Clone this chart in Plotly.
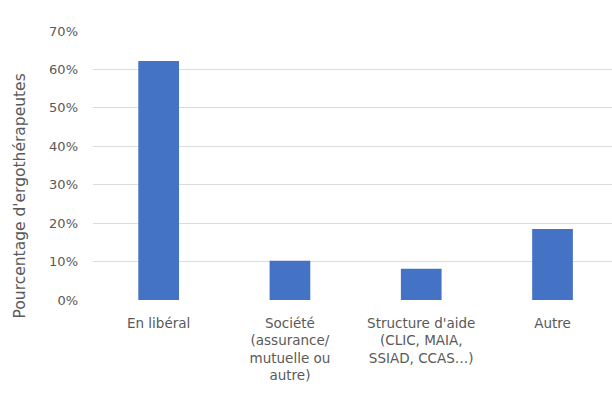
import plotly.graph_objects as go

categories = ["En libéral",
              "Société<br>(assurance/<br>mutuelle ou<br>autre)",
              "Structure d'aide<br>(CLIC, MAIA,<br>SSIAD, CCAS…)",
              "Autre"]
values = [0.622, 0.102, 0.081, 0.185]
y_ticks = [0, 0.1, 0.2, 0.3, 0.4, 0.5, 0.6, 0.7]
y_tick_labels = ["0%", "10%", "20%", "30%", "40%", "50%", "60%", "70%"]
y_title = "Pourcentage d'ergothérapeutes"

font_family = "DejaVu Sans, sans-serif"
text_color = "#595959"

fig = go.Figure(go.Bar(
    x=list(range(len(categories))),
    y=values,
    marker=dict(color="#4472C4", line=dict(width=0)),
    width=0.31,
))

fig.update_layout(
    width=612, height=394,
    margin=dict(l=93, r=0, t=31, b=94),
    paper_bgcolor="white", plot_bgcolor="white",
    showlegend=False,
    font=dict(family=font_family, color=text_color, size=13),
    xaxis=dict(
        range=[-0.5, 3.453],
        tickmode="array",
        tickvals=list(range(len(categories))),
        ticktext=categories,
        showgrid=False, zeroline=False, showline=False,
        ticks="", ticklabelstandoff=13,
        tickfont=dict(size=13.5, color=text_color),
    ),
    yaxis=dict(
        range=[0, 0.7],
        tickmode="array",
        tickvals=y_ticks,
        ticktext=y_tick_labels,
        showgrid=True, gridcolor="#dcdcdc", gridwidth=1,
        zeroline=False, showline=False,
        ticks="", ticklabelstandoff=14,
        tickfont=dict(size=13, color=text_color),
    ),
    annotations=[dict(
        text=y_title, textangle=-90,
        xref="paper", yref="paper",
        x=-73 / 519, y=0.385,
        xanchor="center", yanchor="middle",
        showarrow=False,
        font=dict(size=15.5, color=text_color, family=font_family),
    )],
)

fig.write_html("out.html")
